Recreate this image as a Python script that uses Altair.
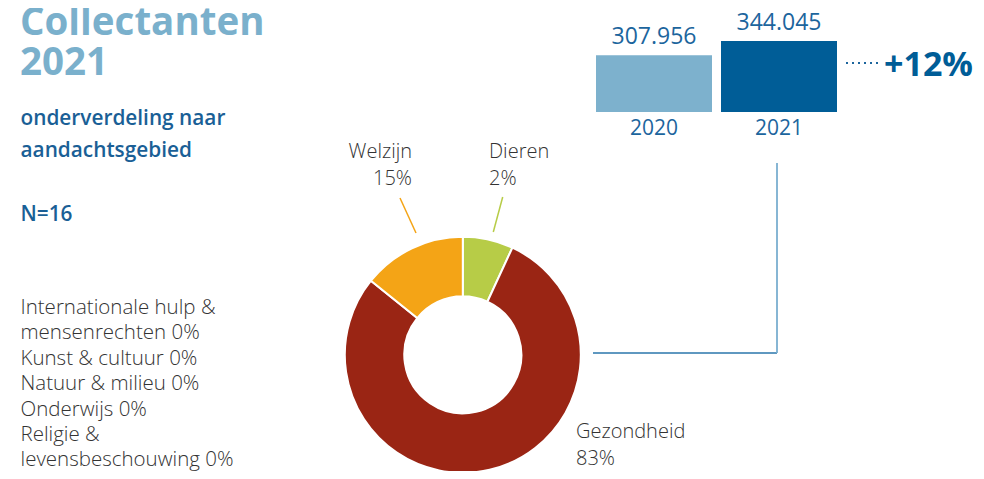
import altair as alt
import pandas as pd

# ---- data ----
years = ["2020", "2021"]
collectanten = [307956, 344045]
year_labels = ["307.956", "344.045"]
growth_label = "+12%"

areas = ["Dieren", "Gezondheid", "Welzijn"]
area_shares_drawn = [6.9, 78.9, 14.2]  # arc sizes as drawn
area_pct_labels = ["2%", "83%", "15%"]

zero_areas = [
    "Internationale hulp &",
    "mensenrechten 0%",
    "Kunst & cultuur 0%",
    "Natuur & milieu 0%",
    "Onderwijs 0%",
    "Religie &",
    "levensbeschouwing 0%",
]

OFF = 8  # page margin
FONT = "Open Sans"
C_LIGHT = "#7db1cd"
C_DARK = "#005d97"
C_TEXTBLUE = "#1c659d"
C_GREY = "#333333"

bars_df = pd.DataFrame({"year": years, "value": collectanten, "label": year_labels})
arc_df = pd.DataFrame({"area": areas, "share": area_shares_drawn,
                       "order": list(range(len(areas)))})

x_scale = alt.Scale(domain=years, range=[596 - OFF, 837 - OFF],
                    paddingInner=0.072, paddingOuter=0)
y_scale = alt.Scale(domain=[165000, 427000], range=[104, 0], zero=False, nice=False)
xb = alt.X("year:N", axis=None, scale=x_scale)
xb_c = alt.X("year:N", axis=None, scale=x_scale, bandPosition=0.5)
yb = alt.Y("value:Q", axis=None, scale=y_scale)

bars = alt.Chart(bars_df).mark_bar().encode(
    x=xb, y=yb, y2=alt.datum(165000),
    color=alt.Color("year:N", legend=None,
                    scale=alt.Scale(domain=years, range=[C_LIGHT, C_DARK])),
)
bar_vals = alt.Chart(bars_df).mark_text(
    font=FONT, fontSize=23, color=C_TEXTBLUE, baseline="alphabetic", dy=-11
).encode(x=xb_c, y=yb, text="label:N")
bar_years = alt.Chart(bars_df).mark_text(
    font=FONT, fontSize=21, color=C_TEXTBLUE, baseline="alphabetic", dy=23
).encode(x=xb_c, y=alt.datum(165000), text="year:N")


def txt(text, x, y, size, color, weight=400, align="left", lh=None):
    kw = dict(font=FONT, fontSize=size, color=color, fontWeight=weight,
              align=align, baseline="alphabetic")
    if lh is not None:
        kw["lineHeight"] = lh
    return alt.Chart(pd.DataFrame({"a": [0]})).mark_text(**kw).encode(
        x=alt.value(x - OFF), y=alt.value(y - OFF), text=alt.value(text))


def rule(x1, y1, x2, y2, color, width=1.5, dash=None):
    kw = dict(color=color, strokeWidth=width)
    if dash is not None:
        kw["strokeDash"] = dash
    return alt.Chart(pd.DataFrame({"a": [0]})).mark_rule(**kw).encode(
        x=alt.value(x1 - OFF), y=alt.value(y1 - OFF),
        x2=alt.value(x2 - OFF), y2=alt.value(y2 - OFF))


dotted = rule(846, 63, 878, 63, C_TEXTBLUE, width=2, dash=[2, 4])
growth = txt(growth_label, 884, 76, 34, C_DARK, weight=700)

donut = alt.Chart(arc_df).mark_arc(
    outerRadius=118, innerRadius=58.5, stroke="white", strokeWidth=2
).encode(
    theta=alt.Theta("share:Q", stack=True),
    order=alt.Order("order:Q"),
    color=alt.Color("area:N", legend=None,
                    scale=alt.Scale(domain=areas, range=["#b7cc47", "#9a2514", "#f4a416"])),
    x=alt.value(462.8 - OFF), y=alt.value(354.8 - OFF),
)

conn_h = rule(593, 353, 777, 353, "#2a76ab", width=1.5)
conn_v = rule(777, 163, 777, 353, "#7aaed0", width=1.8)

lead_w = rule(400, 198, 416, 233, "#f4a416", width=1.5)
lead_d = rule(502.7, 197, 493.3, 232, "#b7cc47", width=1.5)

lab_w = txt(["Welzijn", area_pct_labels[2]], 412, 158, 20, C_GREY, weight=300, align="right", lh=27)
lab_d = txt(["Dieren", area_pct_labels[0]], 489, 158, 20, C_GREY, weight=300, lh=27)
lab_g = txt(["Gezondheid", area_pct_labels[1]], 576, 438, 20, C_GREY, weight=300, lh=27)

title = txt(["Collectanten", "2021"], 20, 35, 38.5, "#7ab0cc", weight=700, lh=40)
subtitle = txt(["onderverdeling naar", "aandachtsgebied"], 20.5, 125, 20.8, "#1a5f96", weight=600, lh=32)
n_text = txt("N=16", 20.5, 221, 20.8, "#1a5f96", weight=600)
zero_list = txt(zero_areas, 20.5, 314, 20.5, C_GREY, weight=300, lh=25.4)

chart = alt.layer(
    bars, bar_vals, bar_years, dotted, growth,
    conn_h, conn_v, donut, lead_w, lead_d, lab_w, lab_d, lab_g,
    title, subtitle, n_text, zero_list,
).resolve_scale(color="independent").properties(
    width=968, height=463, autosize=alt.AutoSizeParams(type="none"), padding=0
).configure_view(stroke=None)

chart.save("out.html", embed_options={"renderer": "svg", "actions": False})
